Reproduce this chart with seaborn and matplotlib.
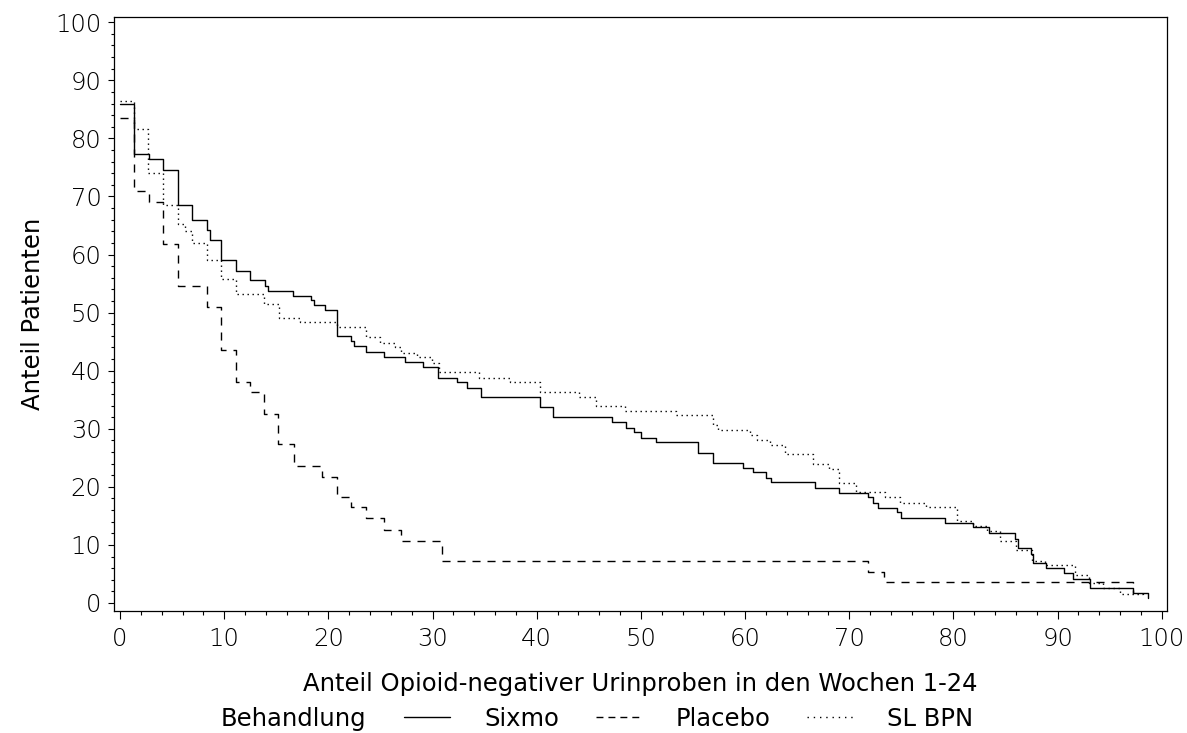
import pandas as pd
import seaborn as sns
import matplotlib.pyplot as plt
from matplotlib.lines import Line2D
from matplotlib.ticker import MultipleLocator

# Step curves: x = where each level starts, y = level in %
# (the last pair is the end point of the curve)
sixmo_x = [0, 1.3, 2.8, 4.1, 5.55, 6.9, 8.3, 8.6, 9.7, 11.1, 12.5, 13.9, 14.2, 16.6,
           18.3, 18.65, 19.7, 20.8, 22.2, 22.5, 23.6, 25.3, 27.4, 29.1, 30.5, 32.3,
           33.3, 34.65, 40.3, 41.6, 47.2, 48.6, 49.3, 50.0, 51.4, 55.5, 56.9, 59.8,
           60.8, 62.0, 62.5, 66.7, 69.0, 71.8, 72.3, 72.8, 74.6, 75.0, 79.2, 81.9,
           83.4, 85.9, 86.2, 87.4, 87.6, 88.9, 90.6, 91.5, 93.1, 97.2, 98.7]
sixmo_y = [86.0, 77.3, 76.5, 74.6, 68.6, 66.0, 64.2, 62.5, 59.0, 57.2, 55.6, 54.6, 53.8, 52.9,
           52.1, 51.3, 50.4, 46.0, 45.1, 44.3, 43.2, 42.3, 41.5, 40.6, 38.8, 38.0,
           37.1, 35.4, 33.7, 32.0, 31.1, 30.2, 29.4, 28.4, 27.7, 25.9, 24.1, 23.3,
           22.5, 21.6, 20.8, 19.8, 19.0, 18.2, 17.3, 16.4, 15.6, 14.6, 13.7, 13.0,
           12.1, 11.1, 9.4, 8.5, 6.9, 6.0, 5.1, 4.2, 2.5, 1.65, 0.8]

placebo_x = [0, 1.3, 2.8, 4.1, 5.55, 8.3, 9.7, 11.1, 12.5, 13.85, 15.2, 16.7, 19.4,
             20.8, 22.2, 23.6, 25.3, 27.0, 30.9, 71.8, 73.3, 97.2]
placebo_y = [83.5, 71.0, 69.1, 61.8, 54.6, 50.9, 43.6, 38.1, 36.4, 32.6, 27.3, 23.6, 21.7,
             18.3, 16.5, 14.6, 12.6, 10.7, 7.2, 5.4, 3.6, 1.8]

slbpn_x = [0, 1.3, 2.7, 4.1, 5.55, 6.2, 6.9, 8.3, 9.7, 11.1, 13.8, 15.25, 17.3, 20.8,
           23.6, 24.95, 26.4, 27.0, 28.5, 29.9, 30.6, 34.5, 37.4, 40.3, 44.1, 45.7,
           48.5, 53.4, 56.9, 57.4, 60.5, 61.1, 62.4, 63.8, 66.5, 68.1, 69.0, 70.6,
           73.4, 74.9, 77.4, 80.3, 81.9, 83.2, 84.5, 86.0, 87.5, 88.8, 91.7, 93.0,
           94.4, 96.0, 98.2]
slbpn_y = [86.4, 81.6, 74.1, 68.5, 65.2, 64.0, 61.9, 59.0, 55.8, 53.2, 51.5, 49.1, 48.3, 47.5,
           45.8, 44.8, 44.0, 43.1, 42.3, 41.4, 39.7, 38.8, 38.0, 36.4, 35.5, 33.9,
           33.0, 32.3, 30.6, 29.8, 28.9, 28.1, 27.2, 25.6, 24.0, 23.1, 20.7, 19.1,
           18.2, 17.3, 16.5, 14.1, 13.2, 12.4, 10.7, 9.2, 7.3, 6.6, 4.9, 3.4,
           2.5, 1.6, 1.0]

groups = ['Sixmo', 'Placebo', 'SL BPN']

df = pd.concat([
    pd.DataFrame({'x': sixmo_x, 'y': sixmo_y, 'Behandlung': 'Sixmo'}),
    pd.DataFrame({'x': placebo_x, 'y': placebo_y, 'Behandlung': 'Placebo'}),
    pd.DataFrame({'x': slbpn_x, 'y': slbpn_y, 'Behandlung': 'SL BPN'}),
], ignore_index=True)

sns.set_style('ticks')
plt.rcParams['font.family'] = ['DejaVu Sans']
plt.rcParams['text.color'] = 'black'
plt.rcParams['axes.labelcolor'] = 'black'

fig = plt.figure(figsize=(11.87, 7.33), dpi=100)
ax = fig.add_axes([114 / 1187, 1 - 611 / 733, 1053 / 1187, 594 / 733])

dash_map = {'Sixmo': '', 'Placebo': (5.8, 5), 'SL BPN': (1, 2.6)}
sns.lineplot(data=df, x='x', y='y', hue='Behandlung', style='Behandlung',
             palette={g: 'black' for g in groups}, dashes=dash_map,
             estimator=None, sort=False, drawstyle='steps-post',
             linewidth=1.0, legend=False, ax=ax)

ax.set_xlim(-0.58, 100.5)
ax.set_ylim(-1.38, 100.9)
ax.xaxis.set_major_locator(MultipleLocator(10))
ax.xaxis.set_minor_locator(MultipleLocator(2))
ax.yaxis.set_major_locator(MultipleLocator(10))
ax.yaxis.set_minor_locator(MultipleLocator(2))
ax.tick_params(axis='x', which='major', length=5.5, width=0.8, pad=6, color='black')
ax.tick_params(axis='x', which='minor', length=3, width=0.8, color='black')
ax.tick_params(axis='y', which='major', length=4.5, width=0.8, pad=4.5, color='black')
ax.tick_params(axis='y', which='minor', length=2.5, width=0.8, color='black')
for lab in ax.get_xticklabels() + ax.get_yticklabels():
    lab.set_fontsize(17.5)
    lab.set_fontweight('light')
    lab.set_color('black')

for sp in ax.spines.values():
    sp.set_visible(True)
    sp.set_color('black')
    sp.set_linewidth(0.9)

ax.set_xlabel('Anteil Opioid-negativer Urinproben in den Wochen 1-24', fontsize=17.5)
ax.set_ylabel('Anteil Patienten', fontsize=17.5)
ax.xaxis.set_label_coords(0.5, -0.1027)
ax.yaxis.set_label_coords(-0.066, 0.5)

# legend along the bottom
fig.text(221 / 1187, 1 - 719 / 733, 'Behandlung', fontsize=17.5, va='center', ha='left')
handles = [
    Line2D([], [], color='black', lw=1.0, linestyle='-'),
    Line2D([], [], color='black', lw=1.0, linestyle=(0, (5, 3.6))),
    Line2D([], [], color='black', lw=1.0, linestyle=(0, (1, 3.5))),
]
fig.legend(handles, groups, loc='center left', bbox_to_anchor=(404 / 1187, 1 - 719 / 733),
           ncol=3, frameon=False, fontsize=17.5, borderpad=0, borderaxespad=0,
           handlelength=1.9, handletextpad=1.4, columnspacing=1.5)

fig.savefig('out.png', dpi=100)
